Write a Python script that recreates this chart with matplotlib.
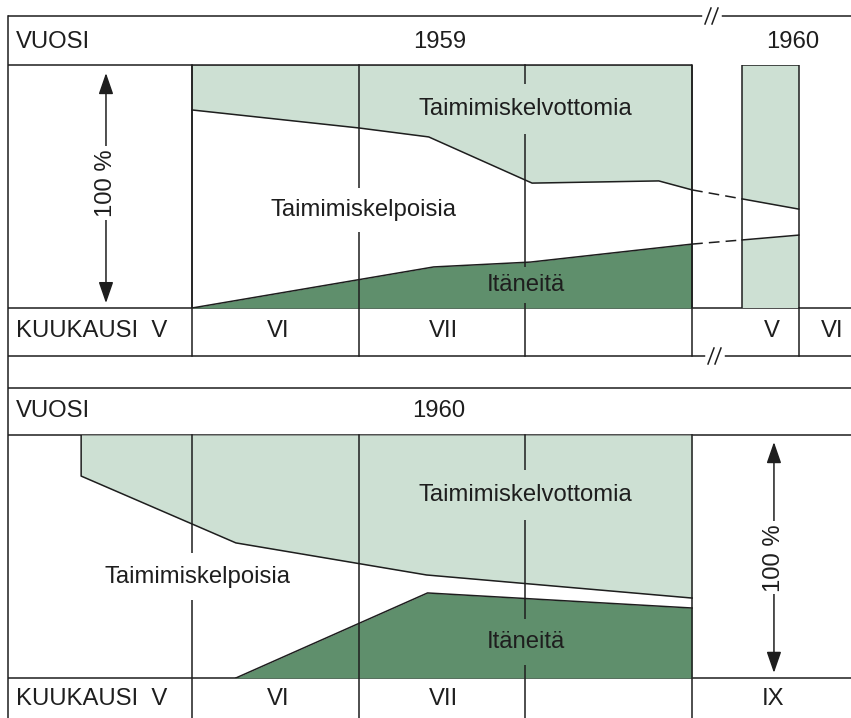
import numpy as np
import matplotlib.pyplot as plt

plt.rcParams['font.family'] = ['Liberation Sans', 'DejaVu Sans']

# ----- data: x = kuukausi (6.0 = kesäkuun alku), y = % siemenistä

# 1959: raja taimimiskelpoisia / taimimiskelvottomia
raja59_x = [6.0, 7.0, 7.42, 8.04, 8.80, 9.0]
raja59_y = [81.5, 74.1, 70.4, 51.4, 52.3, 48.6]
# 1959: itäneitä
ita59_x = [6.0, 7.45, 8.03, 9.0]
ita59_y = [0.0, 16.9, 18.9, 26.3]

# 1960 toukokuu (ylempi kuva, katkon jälkeen)
tk60_x = [5.66, 6.0]
raja60a_y = [44.9, 40.7]
ala60a_y = [28.0, 30.0]

# 1960 (alempi kuva)
raja60_x = [5.335, 6.263, 7.407, 9.0]
raja60_y = [83.1, 55.6, 42.4, 32.9]
ita60_x = [6.263, 7.413, 9.0]
ita60_y = [0.0, 35.0, 28.8]

kk_rajat = [6.0, 7.0, 8.0, 9.0]

# ----- ulkoasu (pikseleinä)
W, H = 851, 718
X0 = 8            # vasen reuna
MW = 166.7        # kuukauden leveys px
PX6 = 192         # kesäkuun alku px
VALI = 3.64       # katko 1959 -> 1960 kuukausina
YL_TOP, YL_BOT = 65, 308     # ylempi kuvaala
AL_TOP, AL_BOT = 435, 678    # alempi kuvaala

vaalea = '#cde0d3'
tumma = '#5f8f6c'
musta = '#1e1e1e'
lw = 1.1
fs = 17.2

def px(m):
    return PX6 + (m - 6.0) * MW

fig = plt.figure(figsize=(W / 100, H / 100), dpi=100)

# taustataulukko
ax0 = fig.add_axes([0, 0, 1, 1])
ax0.set_xlim(0, W)
ax0.set_ylim(H, 0)
ax0.axis('off')

def hline(y, x1=X0, x2=W):
    ax0.plot([x1, x2], [y, y], color=musta, lw=lw, solid_capstyle='butt')

def katko(x, y):
    ax0.plot([x - 7, x + 7], [y, y], color='white', lw=4, zorder=3)
    for dx in (-4, 3):
        ax0.plot([x + dx - 3, x + dx + 3], [y + 8, y - 8], color=musta, lw=lw, zorder=4)

ax0.plot([X0, X0], [16, H], color=musta, lw=lw)
for y in (16, 308, 356, 388, 435, 678):
    hline(y)
hline(65, X0, px(9.0))
katko(712, 16)
katko(715, 356)

# tekstit taulukkoon
ax0.text(16, 42, 'VUOSI', fontsize=fs, va='center', ha='left', color=musta)
ax0.text(440, 42, '1959', fontsize=fs, va='center', ha='center', color=musta)
ax0.text(793, 42, '1960', fontsize=fs, va='center', ha='center', color=musta)
ax0.text(16, 331, 'KUUKAUSI  V', fontsize=fs, va='center', ha='left', color=musta)
ax0.text(278, 331, 'VI', fontsize=fs, va='center', ha='center', color=musta)
ax0.text(443, 331, 'VII', fontsize=fs, va='center', ha='center', color=musta)
ax0.text(772, 331, 'V', fontsize=fs, va='center', ha='center', color=musta)
ax0.text(832, 331, 'VI', fontsize=fs, va='center', ha='center', color=musta)

ax0.text(16, 411, 'VUOSI', fontsize=fs, va='center', ha='left', color=musta)
ax0.text(439, 411, '1960', fontsize=fs, va='center', ha='center', color=musta)
ax0.text(16, 699, 'KUUKAUSI  V', fontsize=fs, va='center', ha='left', color=musta)
ax0.text(278, 699, 'VI', fontsize=fs, va='center', ha='center', color=musta)
ax0.text(443, 699, 'VII', fontsize=fs, va='center', ha='center', color=musta)
ax0.text(773, 699, 'IX', fontsize=fs, va='center', ha='center', color=musta)

def data_axes(ytop, ybot):
    ax = fig.add_axes([X0 / W, 1 - ybot / H, (W - X0) / W, (ybot - ytop) / H])
    ax.set_xlim(6 + (X0 - PX6) / MW, 6 + (W - PX6) / MW)
    ax.set_ylim(0, 100)
    ax.axis('off')
    return ax

def label(ax, x, y, s, bg, pad=8):
    ax.text(x, y, s, fontsize=fs, ha='center', va='center', color=musta, zorder=3,
            bbox=dict(facecolor=bg, edgecolor='none', pad=pad))

# ----- 1959 (ylempi)
ax1 = data_axes(YL_TOP, YL_BOT)
ax1.fill_between(raja59_x, raja59_y, 100, color=vaalea, lw=0, zorder=1)
ax1.fill_between(ita59_x, 0, ita59_y, color=tumma, lw=0, zorder=1)

ala = -(356 - YL_BOT) / (YL_BOT - YL_TOP)
for m in kk_rajat:
    ax1.axvline(m, ymin=ala, ymax=1, color=musta, lw=lw, clip_on=False, zorder=2)

# 1960 toukokuun palkki
bx = [m + VALI for m in tk60_x]
ax1.fill_between(bx, 0, 100, color=vaalea, lw=0, zorder=1)
ax1.fill_between(bx, ala60a_y, raja60a_y, color='white', lw=0, zorder=1)
ax1.plot([bx[0], bx[0], bx[1], bx[1]], [0, 100, 100, 0], color=musta, lw=lw, zorder=4)
ax1.axvline(bx[1], ymin=ala, ymax=0, color=musta, lw=lw, clip_on=False, zorder=2)
ax1.plot(bx, raja60a_y, color=musta, lw=lw, zorder=4)
ax1.plot(bx, ala60a_y, color=musta, lw=lw, zorder=4)
ax1.plot([raja59_x[-1], bx[0]], [raja59_y[-1], raja60a_y[0]], color=musta, lw=lw,
         ls=(0, (7, 4)), zorder=4)
ax1.plot([ita59_x[-1], bx[0]], [ita59_y[-1], ala60a_y[0]], color=musta, lw=lw,
         ls=(0, (7, 4)), zorder=4)

ax1.plot(raja59_x, raja59_y, color=musta, lw=lw, zorder=4)
ax1.plot(ita59_x, ita59_y, color=musta, lw=lw, zorder=4)
ax1.plot([6, 6, 9, 9], [0, 100, 100, 0], color=musta, lw=lw, zorder=4)

label(ax1, 8.0, 81.9, 'Taimimiskelvottomia', vaalea, pad=10)
label(ax1, 7.03, 40.3, 'Taimimiskelpoisia', 'white')
label(ax1, 8.0, 9.5, 'Itäneitä', tumma, pad=5)

ax1.annotate('', xy=(5.484, 2.0), xytext=(5.484, 96.7),
             arrowprops=dict(arrowstyle='<|-|>,head_length=1.3,head_width=0.45',
                             mutation_scale=10, color=musta, lw=lw,
                             shrinkA=0, shrinkB=0))
ax1.text(5.484, 51.5, '100 %', fontsize=fs, rotation=90, ha='center', va='center',
         color=musta, bbox=dict(facecolor='white', edgecolor='none', pad=2), zorder=5)

# ----- 1960 (alempi)
ax2 = data_axes(AL_TOP, AL_BOT)
ax2.fill_between(raja60_x, raja60_y, 100, color=vaalea, lw=0, zorder=1)
ax2.fill_between(ita60_x, 0, ita60_y, color=tumma, lw=0, zorder=1)

ala2 = -(H - AL_BOT) / (AL_BOT - AL_TOP)
for m in kk_rajat:
    ax2.axvline(m, ymin=ala2, ymax=1, color=musta, lw=lw, clip_on=False, zorder=2)

ax2.plot([raja60_x[0]] + raja60_x, [100] + raja60_y, color=musta, lw=lw, zorder=4)
ax2.plot(ita60_x, ita60_y, color=musta, lw=lw, zorder=4)

label(ax2, 8.0, 75.3, 'Taimimiskelvottomia', vaalea, pad=10)
label(ax2, 6.03, 41.6, 'Taimimiskelpoisia', 'white', pad=9)
label(ax2, 8.0, 14.8, 'Itäneitä', tumma, pad=9)

ax2.annotate('', xy=(9.491, 2.1), xytext=(9.491, 97.1),
             arrowprops=dict(arrowstyle='<|-|>,head_length=1.3,head_width=0.45',
                             mutation_scale=10, color=musta, lw=lw,
                             shrinkA=0, shrinkB=0))
ax2.text(9.491, 49.5, '100 %', fontsize=fs, rotation=90, ha='center', va='center',
         color=musta, bbox=dict(facecolor='white', edgecolor='none', pad=2), zorder=5)

fig.savefig('out.png', dpi=100)
